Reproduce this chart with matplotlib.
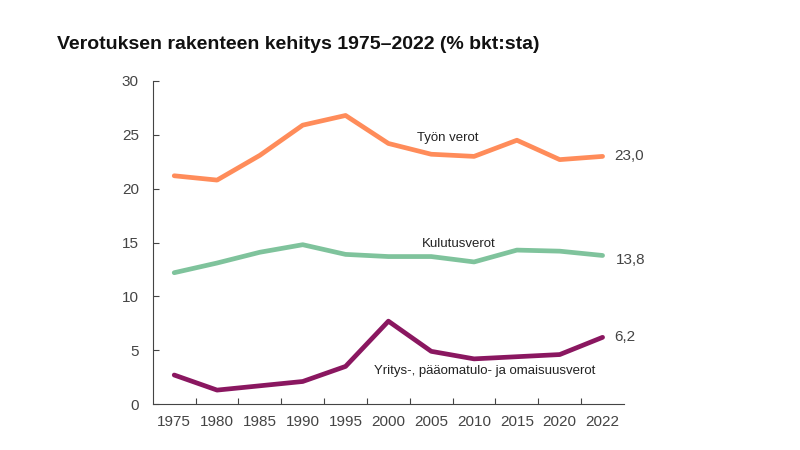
import numpy as np
import matplotlib.pyplot as plt
from matplotlib.ticker import FixedLocator

plt.rcParams['font.family'] = ['Liberation Sans', 'DejaVu Sans']

years = ['1975', '1980', '1985', '1990', '1995', '2000', '2005', '2010', '2015', '2020', '2022']
tyon_verot = [21.2, 20.8, 23.1, 25.9, 26.8, 24.2, 23.2, 23.0, 24.5, 22.7, 23.0]
kulutusverot = [12.2, 13.1, 14.1, 14.8, 13.9, 13.7, 13.7, 13.2, 14.3, 14.2, 13.8]
yritys_verot = [2.7, 1.3, 1.7, 2.1, 3.5, 7.7, 4.9, 4.2, 4.4, 4.6, 6.2]

c_tyo = '#ff8c5a'
c_kul = '#7fc39c'
c_yri = '#8a1760'
grey = '#444444'

fig = plt.figure(figsize=(8, 4.5), dpi=100)
ax = fig.add_axes([0.191, 0.102, 0.589, 0.718])

x = np.arange(len(years))
ax.plot(x, tyon_verot, color=c_tyo, lw=3.4, solid_capstyle='round', solid_joinstyle='round')
ax.plot(x, kulutusverot, color=c_kul, lw=3.4, solid_capstyle='round', solid_joinstyle='round')
ax.plot(x, yritys_verot, color=c_yri, lw=3.4, solid_capstyle='round', solid_joinstyle='round')

ax.set_xlim(-0.5, 10.5)
ax.set_ylim(0, 30)
ax.set_xticks(x)
ax.set_xticklabels(years)
ax.xaxis.set_minor_locator(FixedLocator(np.arange(0.5, 10, 1)))
ax.tick_params(axis='x', which='major', length=0, pad=8, labelsize=11, labelcolor=grey)
ax.tick_params(axis='x', which='minor', direction='in', length=4, color=grey, width=0.8)
ax.set_yticks([0, 5, 10, 15, 20, 25, 30])
ax.tick_params(axis='y', direction='in', length=4, color=grey, width=0.8, pad=10,
               labelsize=11, labelcolor=grey)

for s in ['top', 'right']:
	ax.spines[s].set_visible(False)
for s in ['left', 'bottom']:
	ax.spines[s].set_color(grey)
	ax.spines[s].set_linewidth(0.8)

# series labels
ax.text(6.38, 24.7, 'Työn verot', fontsize=9.5, color='#222222', ha='center', va='center')
ax.text(6.64, 14.9, 'Kulutusverot', fontsize=9.5, color='#222222', ha='center', va='center')
ax.text(7.25, 3.07, 'Yritys-, pääomatulo- ja omaisuusverot', fontsize=9.5, color='#222222',
		ha='center', va='center')

# end values
ax.text(10.28, 23.0, '23,0', fontsize=11, color=grey, ha='left', va='center')
ax.text(10.3, 13.4, '13,8', fontsize=11, color=grey, ha='left', va='center')
ax.text(10.28, 6.25, '6,2', fontsize=11, color=grey, ha='left', va='center')

fig.text(0.071, 0.902, 'Verotuksen rakenteen kehitys 1975–2022 (% bkt:sta)', fontsize=14,
		 fontweight='bold', color='#111111', ha='left', va='center')

fig.savefig('out.png', dpi=100)
